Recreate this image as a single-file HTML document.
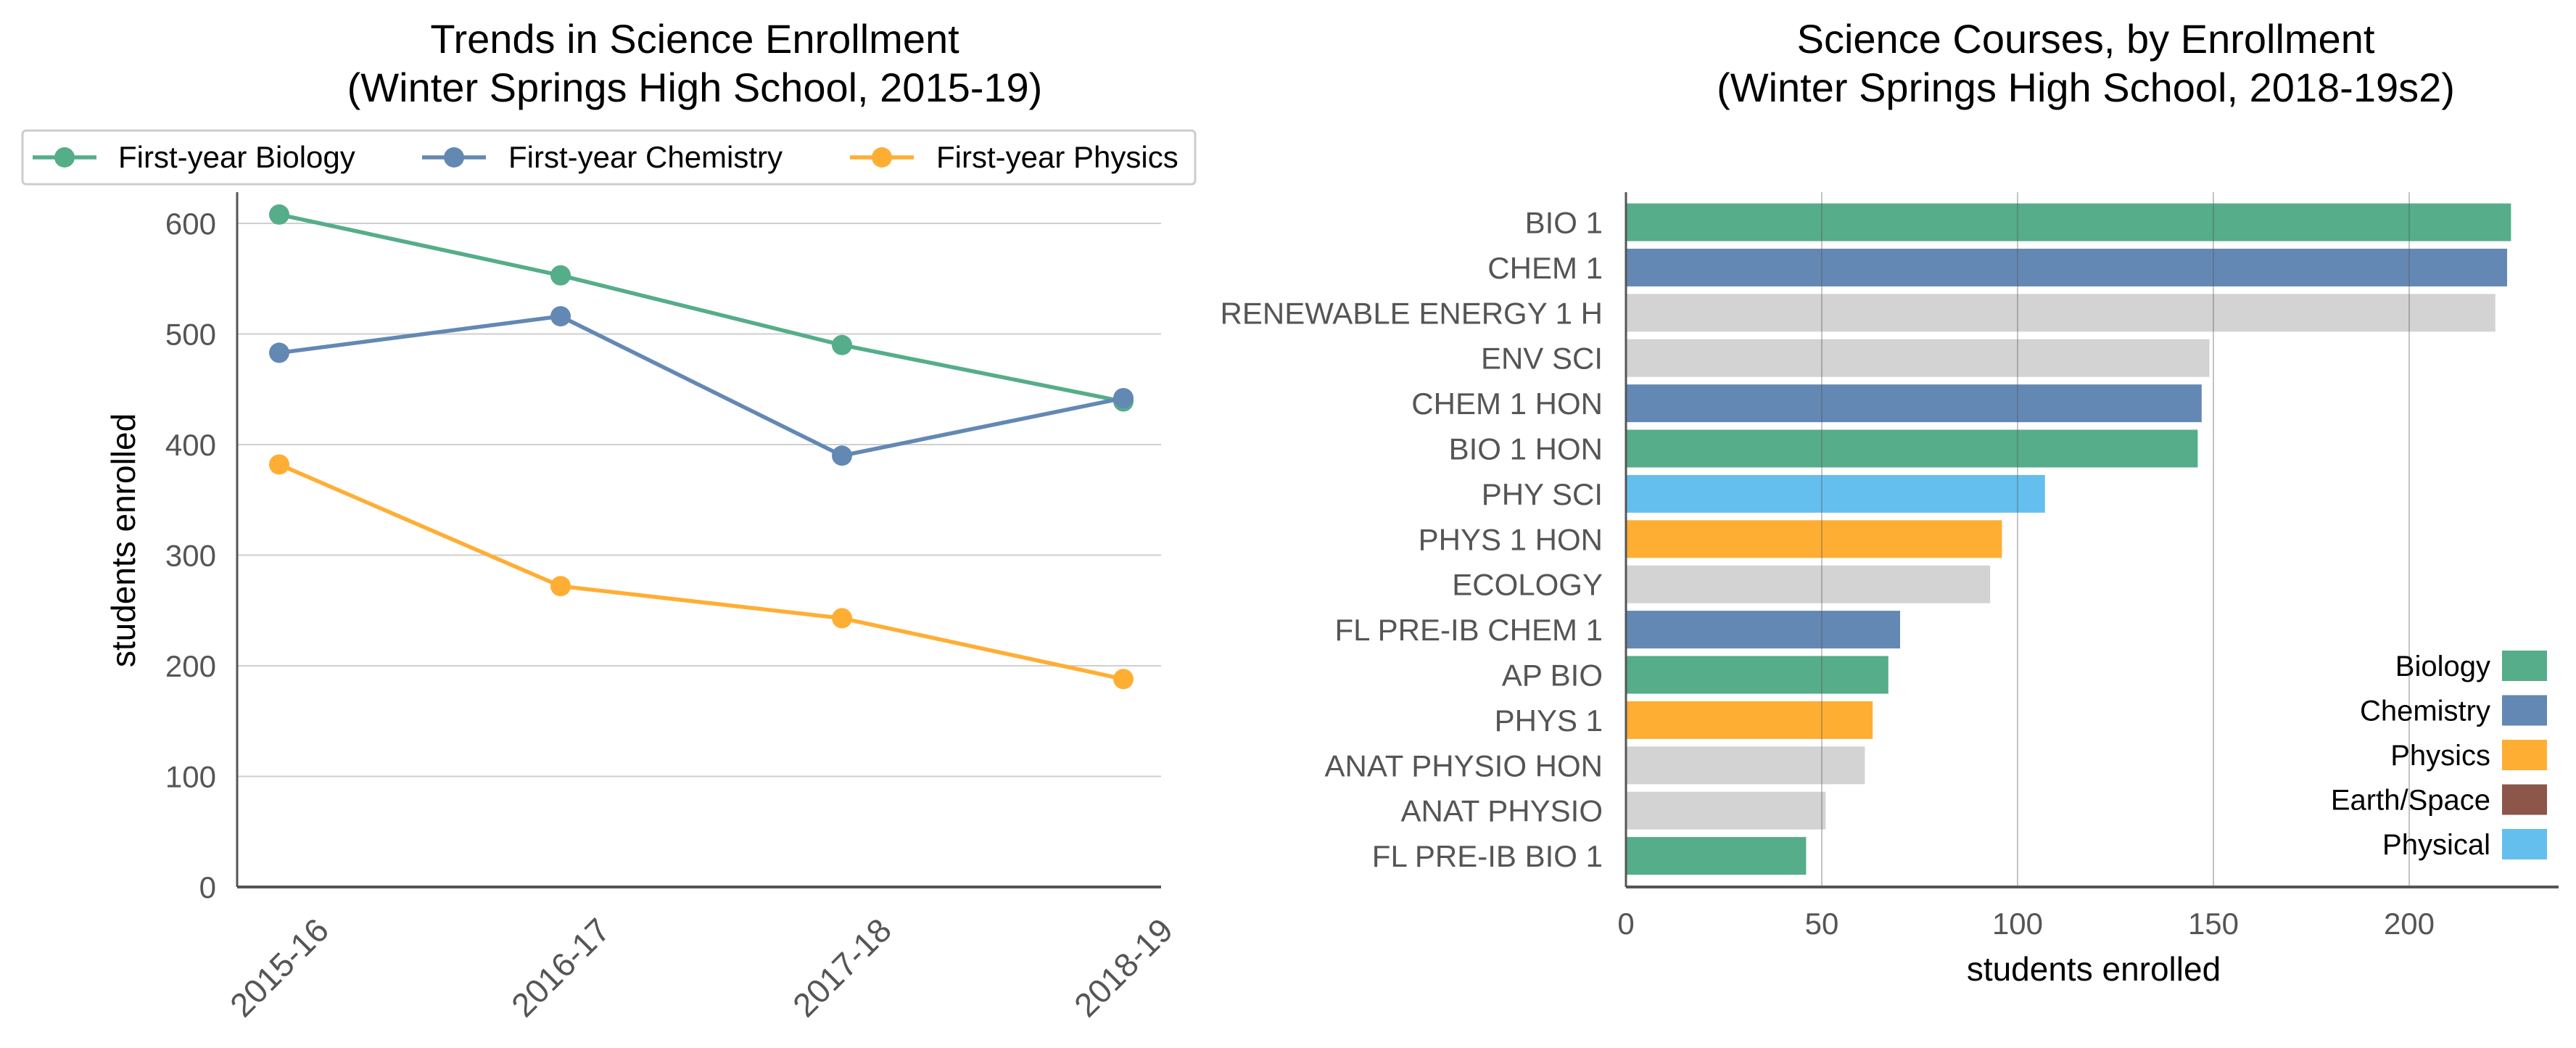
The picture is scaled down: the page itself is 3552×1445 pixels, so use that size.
<!DOCTYPE html>
<html><head><meta charset="utf-8"><style>
html,body{margin:0;padding:0;background:#fff}
svg{display:block;font-family:"Liberation Sans",sans-serif}
</style></head><body>
<svg id="svg" width="3552" height="1445" viewBox="0 0 3552 1445" xmlns="http://www.w3.org/2000/svg">
<g id="left"></g>
<g id="right"></g>
</svg>
<script>
const years = ["2015-16","2016-17","2017-18","2018-19"];
const bioVals = [608, 553, 490, 439];
const chemVals = [483, 516, 390, 442];
const physVals = [382, 272, 243, 188];
const yTicks = [0,100,200,300,400,500,600];

const courses = ["BIO 1","CHEM 1","RENEWABLE ENERGY 1 H","ENV SCI","CHEM 1 HON","BIO 1 HON","PHY SCI","PHYS 1 HON","ECOLOGY","FL PRE-IB CHEM 1","AP BIO","PHYS 1","ANAT PHYSIO HON","ANAT PHYSIO","FL PRE-IB BIO 1"];
const enroll = [226,225,222,149,147,146,107,96,93,70,67,63,61,51,46];
const subject = ["Biology","Chemistry","Other","Other","Chemistry","Biology","Physical","Physics","Other","Chemistry","Biology","Physics","Other","Other","Biology"];
const xTicks = [0,50,100,150,200];
const legendSubjects = ["Biology","Chemistry","Physics","Earth/Space","Physical"];

const NS="http://www.w3.org/2000/svg";
const colors={Biology:"#55ad89",Chemistry:"#6388b4",Physics:"#ffae34","Earth/Space":"#8c564b",Physical:"#64bfef",Other:"#d3d3d3"};
function mk(parent,tag,attrs,text){const e=document.createElementNS(NS,tag);for(const k in attrs)e.setAttribute(k,attrs[k]);if(text!==undefined)e.textContent=text;parent.appendChild(e);return e;}

// LEFT
const L=document.getElementById('left');
const lx0=327,lx1=1601,ly0=1223,lyTop=265;
const yS=v=>ly0-v*(ly0-308)/600;
const xS=i=>385+i*388;
let t;
t=mk(L,'text',{x:958,y:73,'font-size':56,'text-anchor':'middle',fill:'#000'},'Trends in Science Enrollment');


t=mk(L,'text',{x:958,y:140,'font-size':56,'text-anchor':'middle',fill:'#000'},'(Winter Springs High School, 2015-19)');


yTicks.forEach(v=>{
  if(v>0){const g=mk(L,'line',{x1:lx0,x2:lx1,y1:yS(v),y2:yS(v),stroke:'#cfcfcf','stroke-width':2});
  
  }
  const tt=mk(L,'text',{x:298,y:yS(v)+15,'font-size':42,'text-anchor':'end',fill:'#555'},String(v));
  
  
});
let a=mk(L,'line',{x1:lx0,x2:lx0,y1:lyTop,y2:ly0,stroke:'#555','stroke-width':3});


a=mk(L,'line',{x1:lx0,x2:lx1,y1:ly0,y2:ly0,stroke:'#555','stroke-width':4});


years.forEach((y,i)=>{
  const x=xS(i),yy=1334;
  const tt=mk(L,'text',{x:x,y:yy+16,'font-size':46,'text-anchor':'middle',fill:'#555',transform:`rotate(-45 ${x} ${yy})`},y);
  
  
});
t=mk(L,'text',{x:0,y:0,'font-size':46,'text-anchor':'middle',fill:'#000',transform:'translate(186 745) rotate(-90)'},'students enrolled');


const series=[["Biology",bioVals,colors.Biology],["Chemistry",chemVals,colors.Chemistry],["Physics",physVals,colors.Physics]];
series.forEach(([n,vals,c])=>{
  const p=mk(L,'polyline',{points:vals.map((v,i)=>xS(i)+','+yS(v)).join(' '),fill:'none',stroke:c,'stroke-width':5.5});
  
  
  vals.forEach((v,i)=>{const d=mk(L,'circle',{cx:xS(i),cy:yS(v),r:14,fill:c});
    
    });
});
// legend
const lg=mk(L,'g',{});


mk(lg,'rect',{x:31,y:180,width:1617,height:74,rx:5,fill:'#fff',stroke:'#ccc','stroke-width':3});
const lpos=[[45,163],[582,701],[1172,1291]];
series.forEach(([n,vals,c],i)=>{
  const [lx,tx]=lpos[i];
  mk(lg,'line',{x1:lx,x2:lx+88,y1:217,y2:217,stroke:c,'stroke-width':5.5});
  mk(lg,'circle',{cx:lx+44,cy:217,r:14,fill:c});
  const e=mk(lg,'text',{x:tx,y:231,'font-size':42,fill:'#000'},'First-year '+n);
  
  
});

// RIGHT
const R=document.getElementById('right');
const rx0=2242,rxTop=265,ry0=1223,rx1=3528;
const bx=v=>rx0+v*(2512-rx0)/50;
const by=i=>306.5+i*62.4;
t=mk(R,'text',{x:2876,y:73,'font-size':56,'text-anchor':'middle',fill:'#000'},'Science Courses, by Enrollment');


t=mk(R,'text',{x:2876,y:140,'font-size':56,'text-anchor':'middle',fill:'#000'},'(Winter Springs High School, 2018-19s2)');


courses.forEach((c,i)=>{
  const r=mk(R,'rect',{x:rx0,y:by(i)-26,width:bx(enroll[i])-rx0,height:52,fill:colors[subject[i]]});
  
  
  const tt=mk(R,'text',{x:2210,y:by(i)+15,'font-size':42,'text-anchor':'end',fill:'#555'},c);
  
  
});
xTicks.forEach(v=>{
  if(v>0){const g=mk(R,'line',{x1:bx(v),x2:bx(v),y1:rxTop,y2:ry0,stroke:'#555','stroke-opacity':0.35,'stroke-width':2});
  
  }
  const tt=mk(R,'text',{x:bx(v),y:1288,'font-size':42,'text-anchor':'middle',fill:'#555'},String(v));
  
  
});
a=mk(R,'line',{x1:rx0,x2:rx0,y1:rxTop,y2:ry0,stroke:'#555','stroke-width':3});


a=mk(R,'line',{x1:rx0,x2:rx1,y1:ry0,y2:ry0,stroke:'#555','stroke-width':4});


t=mk(R,'text',{x:2887,y:1352,'font-size':46,'text-anchor':'middle',fill:'#000'},'students enrolled');


legendSubjects.forEach((s,i)=>{
  const cy=918+i*61.5;
  const r=mk(R,'rect',{x:3450,y:cy-21,width:62,height:42,fill:colors[s]});
  
  
  const e=mk(R,'text',{x:3434,y:cy+14,'font-size':40,'text-anchor':'end',fill:'#000'},s);
  
  
});
</script>
</body></html>
